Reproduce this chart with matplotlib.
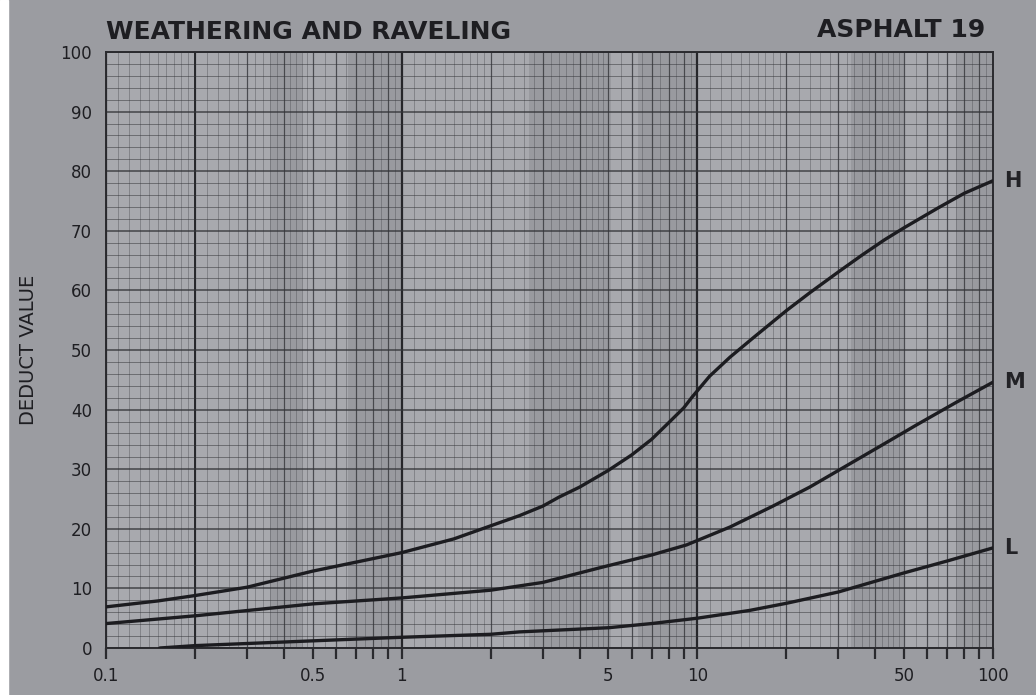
import numpy as np
import matplotlib
matplotlib.use("Agg")
import matplotlib.pyplot as plt

# curves (x = density %, y = deduct value)
h_x = [0.1, 0.15, 0.2, 0.3, 0.5, 0.7, 1, 1.5, 2, 2.5, 3, 3.4, 4, 5, 6, 7, 8, 9, 9.6, 11, 12.9, 15.5, 20, 24, 30, 36, 43, 50, 65, 80, 100]
h_y = [6.9, 7.9, 8.8, 10.2, 12.9, 14.4, 16.0, 18.3, 20.5, 22.2, 23.8, 25.3, 27.0, 29.8, 32.4, 35.0, 37.8, 40.3, 42.1, 45.6, 48.8, 52.1, 56.6, 59.6, 63.1, 65.9, 68.5, 70.5, 73.8, 76.3, 78.4]

m_x = [0.1, 0.2, 0.5, 1, 2, 3, 4.8, 7, 9.2, 12.9, 18, 24, 32, 41, 55, 75, 100]
m_y = [4.1, 5.4, 7.4, 8.4, 9.7, 11.0, 13.6, 15.6, 17.3, 20.3, 23.8, 27.0, 30.6, 33.7, 37.4, 41.2, 44.6]

l_x = [0.152, 0.2, 0.5, 1, 2, 2.5, 5, 7, 10, 15, 20, 30, 50, 70, 100]
l_y = [0.0, 0.4, 1.2, 1.8, 2.3, 2.7, 3.4, 4.1, 5.0, 6.3, 7.5, 9.4, 12.6, 14.6, 16.8]

curve_names = ["H", "M", "L"]
x_labels = {0.1: "0.1", 0.5: "0.5", 1: "1", 5: "5", 10: "10", 50: "50", 100: "100"}
y_ticks = list(range(0, 101, 10))

BG = "#9b9ca1"
PAPER = "#a8a9ae"
INK = "#1c1c20"

fig = plt.figure(figsize=(10.36, 6.95), dpi=100)
fig.patch.set_facecolor(BG)
# white strip on the left edge of the photo
fig.add_artist(plt.Rectangle((0, 0), 8 / 1036, 1, transform=fig.transFigure, color="white", zorder=5))

ax = fig.add_axes([106 / 1036, 1 - 648 / 695, 887 / 1036, 596 / 695])
ax.set_facecolor(PAPER)
ax.set_xscale("log")
ax.set_xlim(0.1, 100)
ax.set_ylim(0, 100)

# darker bands on the photographed graph paper
for a, b in [(0.36, 0.46), (0.66, 1.0), (2.7, 5.1), (6.3, 9.9), (33, 50), (75, 100)]:
    ax.axvspan(a, b, color="#707176", alpha=0.25, lw=0, zorder=0)

# log graph paper grid
for dec in [0.1, 1, 10]:
    fine = np.concatenate([np.arange(1, 2, 0.1), np.arange(2, 5, 0.2), np.arange(5, 10, 0.5)])
    for m in fine:
        ax.axvline(m * dec, color="#4a4b50", lw=0.5, alpha=0.55, zorder=1)
    for m in range(2, 10):
        ax.axvline(m * dec, color="#333438", lw=0.9, alpha=0.7, zorder=1)
    ax.axvline(dec, color="#26262a", lw=1.6, zorder=1)
ax.axvline(0.2, color="#26262a", lw=1.4, zorder=1)
for v in np.arange(0, 101, 2):
    lw = 1.2 if v % 10 == 0 else 0.6
    a = 0.8 if v % 10 == 0 else 0.6
    ax.axhline(v, color="#333438", lw=lw, alpha=a, zorder=1)

for xs, ys in [(h_x, h_y), (m_x, m_y), (l_x, l_y)]:
    ax.plot(xs, ys, color=INK, lw=2.4, solid_capstyle="round", solid_joinstyle="round", zorder=3)

for name, xs, ys in zip(curve_names, [h_x, m_x, l_x], [h_y, m_y, l_y]):
    ax.text(1.012, ys[-1] / 100, name, transform=ax.transAxes, fontsize=15,
            fontweight="bold", color="#222226", va="center", ha="left")

for s in ax.spines.values():
    s.set_color("#2a2a2e")
    s.set_linewidth(1.4)

major = [m * d for d in [0.1, 1, 10] for m in range(1, 10)] + [100]
ax.set_xticks(major)
ax.set_xticklabels([x_labels.get(round(t, 6), "") for t in major])
ax.xaxis.set_minor_locator(matplotlib.ticker.NullLocator())
ax.tick_params(axis="x", direction="out", length=8, width=1.6, color="#2a2a2e",
               labelsize=12, labelcolor="#1e1e22", pad=6)
ax.set_yticks(y_ticks)
ax.set_yticklabels([str(v) for v in y_ticks])
ax.tick_params(axis="y", length=0, labelsize=12, labelcolor="#1e1e22", pad=10)

ax.set_ylabel("DEDUCT VALUE", fontsize=14, color="#1e1e22")
ax.yaxis.set_label_coords((38 - 106) / 887, 0.5)

fig.text(106 / 1036, 1 - 32 / 695, "WEATHERING AND RAVELING", fontsize=18,
         color="#1e1e22", va="center", ha="left", fontweight="bold")
fig.text(985 / 1036, 1 - 30 / 695, "ASPHALT 19", fontsize=18,
         color="#1e1e22", va="center", ha="right", fontweight="bold")

fig.savefig("out.png", dpi=100, facecolor=BG)
